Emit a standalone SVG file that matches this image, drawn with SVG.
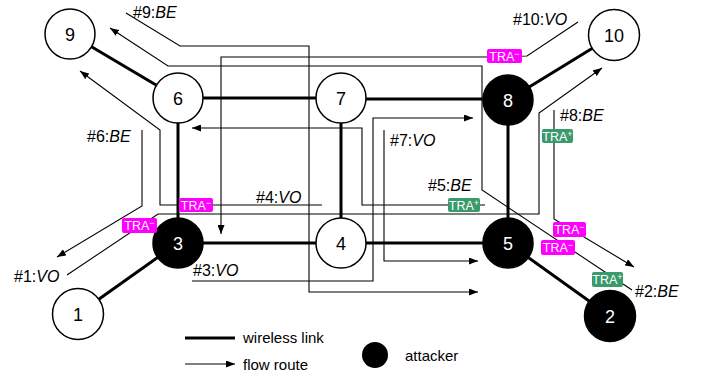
<svg xmlns="http://www.w3.org/2000/svg" width="702" height="377" viewBox="0 0 702 377">
<defs>
<marker id="ah" markerUnits="userSpaceOnUse" markerWidth="9" markerHeight="7" refX="9" refY="3.5" orient="auto">
<path d="M0,0 L9,3.5 L0,7 z" fill="#000"/>
</marker>
<style>
.link{stroke:#000;stroke-width:3;fill:none}
.flow{stroke:#000;stroke-width:1.1;fill:none}
.arr{marker-end:url(#ah)}
.nc{stroke:#000;stroke-width:1.5}
.w{fill:#fff}
.b{fill:#000}
.nt{font-family:"Liberation Sans",Arial,sans-serif;font-size:18px;text-anchor:middle}
.nt.w2{fill:#fff}
.lbl{font-family:"Liberation Sans",Arial,sans-serif;font-size:16px;fill:#000}
.it{font-style:italic}
.trm{fill:#ff00ff}
.trp{fill:#3a9a6c}
.tt{font-family:"Liberation Sans",Arial,sans-serif;font-size:12.5px;fill:#fff;text-anchor:middle}
.sup{font-size:9px}
.leg{font-family:"Liberation Sans",Arial,sans-serif;font-size:15px;fill:#000}
</style>
</defs>
<rect width="702" height="377" fill="#fff"/>

<g id="wireless-links">
<line class="link" x1="70" y1="34" x2="178" y2="98"/>
<line class="link" x1="178" y1="98" x2="341" y2="98"/>
<line class="link" x1="341" y1="99" x2="508" y2="99"/>
<line class="link" x1="508" y1="100" x2="614" y2="35"/>
<line class="link" x1="178" y1="98" x2="178" y2="243"/>
<line class="link" x1="341" y1="98" x2="341" y2="243"/>
<line class="link" x1="508" y1="100" x2="508" y2="243"/>
<line class="link" x1="178" y1="243" x2="341" y2="243"/>
<line class="link" x1="341" y1="243" x2="508" y2="243"/>
<line class="link" x1="178" y1="243" x2="78" y2="314"/>
<line class="link" x1="508" y1="243" x2="610" y2="316"/>
</g>

<g id="flow-routes">
<polyline id="f1" class="flow arr" points="67,275 158,214 539,214 539,113 602,68"/>
<polyline id="f2" class="flow arr" points="632,290 482,190 482,66 168,66 110,28"/>
<polyline id="f3" class="flow arr" points="192,281 373,281 373,118 473,118"/>
<polyline id="f4" class="flow arr" points="322,205 160,205 160,130 80,71"/>
<polyline id="f5" class="flow arr" points="485,205 362,205 362,128 192,128"/>
<polyline id="f6" class="flow arr" points="142,130 142,206 57,257"/>
<polyline id="f7" class="flow arr" points="384,130 384,261 478,261"/>
<polyline id="f8" class="flow arr" points="554,110 554,219 634,267"/>
<polyline id="f9" class="flow arr" points="126,13 180,46 309,46 309,292 478,292"/>
<polyline id="f10" class="flow arr" points="578,22 527,56 487,57 221,57 221,234"/>
</g>

<g id="node-9"><circle class="nc w" cx="70" cy="34" r="25"/><text class="nt" x="70" y="40.5">9</text></g>
<g id="node-6"><circle class="nc w" cx="178" cy="98" r="25"/><text class="nt" x="178" y="104.5">6</text></g>
<g id="node-7"><circle class="nc w" cx="341" cy="98" r="25"/><text class="nt" x="341" y="104.5">7</text></g>
<g id="node-8"><circle class="nc b" cx="508" cy="100" r="25"/><text class="nt w2" x="508" y="106.5">8</text></g>
<g id="node-10"><circle class="nc w" cx="614" cy="35" r="25.5"/><text class="nt" x="614" y="41.5">10</text></g>
<g id="node-3"><circle class="nc b" cx="178" cy="243" r="25"/><text class="nt w2" x="178" y="249.5">3</text></g>
<g id="node-4"><circle class="nc w" cx="341" cy="243" r="25"/><text class="nt" x="341" y="249.5">4</text></g>
<g id="node-5"><circle class="nc b" cx="508" cy="243" r="25"/><text class="nt w2" x="508" y="249.5">5</text></g>
<g id="node-1"><circle class="nc w" cx="78" cy="314" r="25.5"/><text class="nt" x="78" y="320.5">1</text></g>
<g id="node-2"><circle class="nc b" cx="610" cy="316" r="25.5"/><text class="nt w2" x="610" y="322.5">2</text></g>

<g id="tra-tags">
<g><rect class="trm" x="487" y="49" width="35" height="14" rx="2"/><text class="tt" x="504.5" y="60.5">TRA<tspan class="sup" dy="-4">−</tspan></text></g>
<g><rect class="trp" x="542" y="129" width="31" height="14" rx="2"/><text class="tt" x="557.5" y="140.5">TRA<tspan class="sup" dy="-4">+</tspan></text></g>
<g><rect class="trp" x="448" y="198" width="32" height="14" rx="2"/><text class="tt" x="464" y="209.5">TRA<tspan class="sup" dy="-4">+</tspan></text></g>
<g><rect class="trm" x="179" y="198" width="34" height="14" rx="2"/><text class="tt" x="196" y="209.5">TRA<tspan class="sup" dy="-4">−</tspan></text></g>
<g><rect class="trm" x="122" y="218" width="35" height="15" rx="2"/><text class="tt" x="139.5" y="230">TRA<tspan class="sup" dy="-4">−</tspan></text></g>
<g><rect class="trm" x="553" y="222" width="33" height="15" rx="2"/><text class="tt" x="569.5" y="234">TRA<tspan class="sup" dy="-4">−</tspan></text></g>
<g><rect class="trm" x="541" y="240" width="34" height="15" rx="2"/><text class="tt" x="558" y="252">TRA<tspan class="sup" dy="-4">−</tspan></text></g>
<g><rect class="trp" x="592" y="272" width="31" height="15" rx="2"/><text class="tt" x="607.5" y="284">TRA<tspan class="sup" dy="-4">+</tspan></text></g>
</g>

<g id="flow-labels">
<text class="lbl" x="133" y="18">#9:<tspan class="it">BE</tspan></text>
<text class="lbl" x="513" y="25">#10:<tspan class="it">VO</tspan></text>
<text class="lbl" x="560" y="121">#8:<tspan class="it">BE</tspan></text>
<text class="lbl" x="87" y="142">#6:<tspan class="it">BE</tspan></text>
<text class="lbl" x="390" y="146">#7:<tspan class="it">VO</tspan></text>
<text class="lbl" x="428" y="191">#5:<tspan class="it">BE</tspan></text>
<text class="lbl" x="256" y="203">#4:<tspan class="it">VO</tspan></text>
<text class="lbl" x="193" y="276">#3:<tspan class="it">VO</tspan></text>
<text class="lbl" x="14" y="282">#1:<tspan class="it">VO</tspan></text>
<text class="lbl" x="635" y="297">#2:<tspan class="it">BE</tspan></text>
</g>

<g id="legend">
<line class="link" x1="185" y1="338" x2="235" y2="338"/>
<text class="leg" x="243" y="343">wireless link</text>
<line class="flow arr" x1="185" y1="364" x2="235" y2="364"/>
<text class="leg" x="243" y="370">flow route</text>
<circle cx="375" cy="355" r="13" fill="#000"/>
<text class="leg" x="405" y="361">attacker</text>
</g>
</svg>
